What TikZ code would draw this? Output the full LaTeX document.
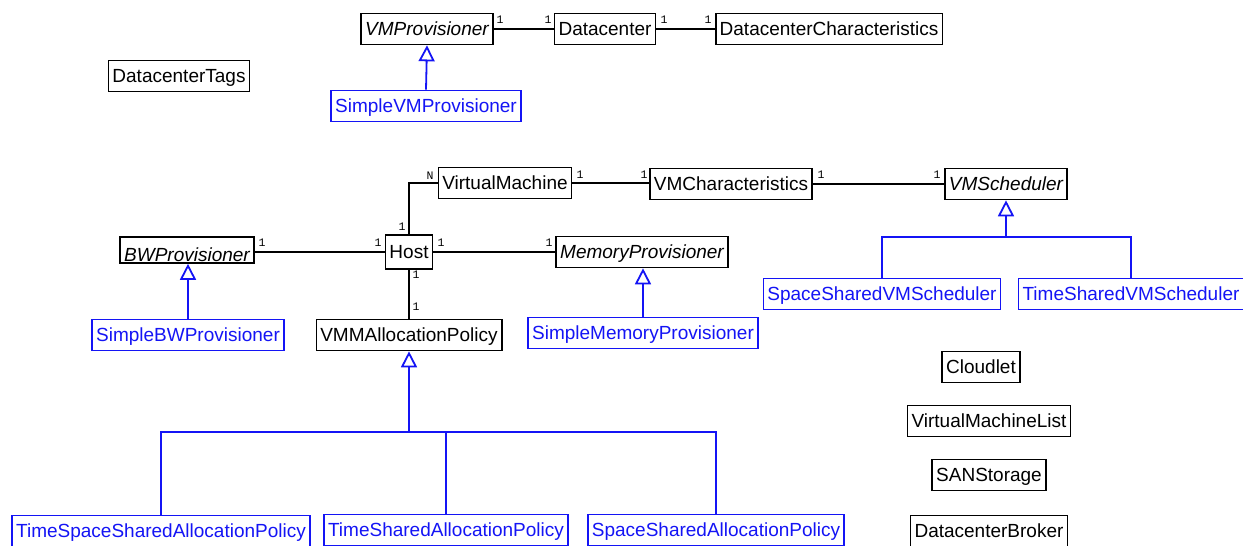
\documentclass[tikz,border=0pt]{standalone}
\usepackage{fontspec}
\setmainfont{Liberation Sans}
\newfontfamily\labfont{Liberation Mono}
\usetikzlibrary{arrows.meta}
\definecolor{umlblue}{RGB}{20,20,245}
\tikzset{
  cls/.style={draw=black, line width=1.6pt, fill=white, font=\fontsize{19}{22}\selectfont,
    inner xsep=4pt, inner ysep=0pt, text height=15.5pt, text depth=2.5pt, minimum height=31pt},
  sub/.style={cls, draw=umlblue, text=umlblue},
  abs/.style={font=\fontsize{19}{22}\selectfont\itshape},
  assoc/.style={line width=1.6pt, draw=black},
  gen/.style={line width=1.8pt, draw=umlblue},
  genarr/.style={gen, -{Triangle[open, length=16pt, width=16pt, fill=white]}},
  mult/.style={font=\labfont\fontsize{11.5}{12}\selectfont, inner sep=0pt}
}
\begin{document}
\begin{tikzpicture}[x=1pt,y=-1pt]
\useasboundingbox (0,0) rectangle (1243,546);
% top row
\node[cls, abs] (vmp) at (427,29) {VMProvisioner};
\node[cls] (dc) at (605,29) {Datacenter};
\node[cls] (dcc) at (829,29) {DatacenterCharacteristics};
\node[cls] (dct) at (179,76) {DatacenterTags};
\node[sub] (svmp) at (426,106) {SimpleVMProvisioner};
% middle
\node[cls] (vm) at (505,183) {VirtualMachine};
\node[cls] (vmc) at (731,184) {VMCharacteristics};
\node[cls, abs] (vms) at (1006,184) {VMScheduler};
\node[cls, abs, text height=22pt, text depth=0pt, minimum height=26pt] (bw) at (187,250) {BWProvisioner};
\node[cls, minimum height=34pt] (host) at (409,252) {Host};
\node[cls, abs] (mem) at (642,252) {MemoryProvisioner};
\node[sub] (ssvm) at (882,294) {SpaceSharedVMScheduler};
\node[sub] (tsvm) at (1131,294) {TimeSharedVMScheduler};
\node[sub] (sbw) at (188,335) {SimpleBWProvisioner};
\node[cls] (vmm) at (409,335) {VMMAllocationPolicy};
\node[sub] (smem) at (643,333) {SimpleMemoryProvisioner};
% right column
\node[cls] (cl) at (981,367) {Cloudlet};
\node[cls] (vml) at (989,421) {VirtualMachineList};
\node[cls] (san) at (989,475) {SANStorage};
\node[cls] (dcb) at (989,531) {DatacenterBroker};
% bottom
\node[sub] (tssa) at (161,531) {TimeSpaceSharedAllocationPolicy};
\node[sub] (tsa) at (446,530) {TimeSharedAllocationPolicy};
\node[sub] (ssa) at (716,530) {SpaceSharedAllocationPolicy};
% associations
\draw[assoc] (vmp.east) -- (dc.west);
\draw[assoc] (dc.east) -- (dcc.west);
\draw[assoc] (host.north) |- (vm.west);
\draw[assoc] (vm.east) -- (vm.east -| vmc.west);
\draw[assoc] (vmc.east) -- (vms.west);
\draw[assoc] (bw.east |- host.west) -- (host.west);
\draw[assoc] (host.east) -- (mem.west |- host.east);
\draw[assoc] (host.south) -- (vmm.north);
% multiplicities
\node[mult] (m1) at (500,20) {1};
\node[mult] (m2) at (548,20) {1};
\node[mult] (m3) at (664,20) {1};
\node[mult] (m4) at (708,20) {1};
\node[mult] (m5) at (430,176) {N};
\node[mult] (m6) at (402,227) {1};
\node[mult] (m7) at (580,175) {1};
\node[mult] (m8) at (644,175) {1};
\node[mult] (m9) at (821,175) {1};
\node[mult] (m10) at (937,175) {1};
\node[mult] (m11) at (262,243) {1};
\node[mult] (m12) at (378,243) {1};
\node[mult] (m13) at (441,243) {1};
\node[mult] (m14) at (549,243) {1};
\node[mult] (m15) at (416,275) {1};
\node[mult] (m16) at (416,307) {1};
% generalizations
\draw[genarr] (svmp.north) -- (vmp.south);
\draw[genarr] (sbw.north) -- (sbw.north |- bw.south);
\draw[genarr] (smem.north) -- (smem.north |- mem.south);
\coordinate (vsj) at (1006,237);
\draw[genarr] (vsj) -- (vms.south);
\draw[gen] (ssvm.north) |- (vsj) -| (tsvm.north);
\coordinate (vmj) at (409,432);
\draw[genarr] (vmj) -- (vmm.south);
\draw[gen] (tssa.north) |- (vmj) -| (ssa.north);
\draw[gen] (tsa.north) |- (vmj);
\end{tikzpicture}
\end{document}
